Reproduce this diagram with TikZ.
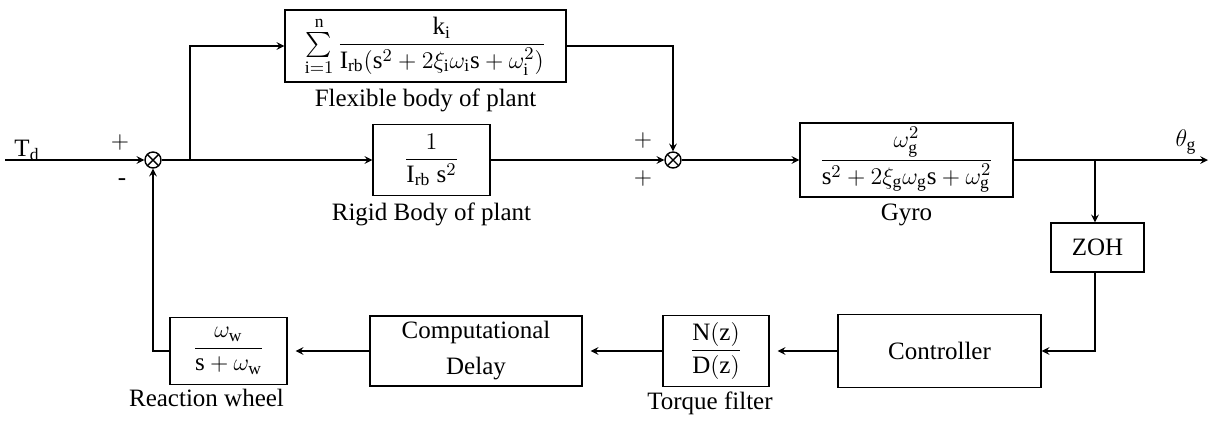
\documentclass[tikz,border=0pt]{standalone}
\usepackage{amsmath, amssymb}
\usepackage{fontspec}
\setmainfont{Liberation Serif}
\usetikzlibrary{calc, positioning}

\begin{document}
\begin{tikzpicture}[>=stealth, x=0.5pt, y=-0.5pt,
    font=\fontsize{12.5}{14}\selectfont,
    block/.style={draw, line width=0.7pt, inner sep=2pt},
    sumjunc/.style={circle, draw, line width=0.7pt, minimum size=8pt, inner sep=0pt,
        path picture={\draw[line width=0.7pt]
            (path picture bounding box.north west) -- (path picture bounding box.south east)
            (path picture bounding box.north east) -- (path picture bounding box.south west);}},
    caption/.style={inner sep=1pt},
    sig/.style={line width=0.7pt},
    gap/.style={sig, shorten >=4pt}]

    % =================================================================
    % 1. FRAME OF THE PICTURE
    % =================================================================
    \useasboundingbox (0,0) rectangle (1211,420);

    % =================================================================
    % 2. SUMMING JUNCTIONS AND FREE POINTS
    % =================================================================
    \node[sumjunc] (sum1) at (153,160) {};
    \node[sumjunc] (sum2) at (673,160) {};
    \coordinate (in) at (5,160);
    \coordinate (br1) at (190,160);
    \coordinate (br2) at (1095,160);
    \coordinate (out) at (1208,160);

    % =================================================================
    % 3. BLOCKS OF THE FORWARD PATH
    % =================================================================
    \node[block, minimum width=140.5pt, minimum height=36pt] (flex) at (425.5,46)
        {$\sum\limits_{\mathrm{i}=1}^{\mathrm{n}}\dfrac{\mathrm{k_i}}{\mathrm{I_{rb}}(\mathrm{s}^2+2\xi_\mathrm{i}\omega_\mathrm{i}\mathrm{s}+\omega^2_\mathrm{i})}$};
    \node[block, minimum width=58.5pt, minimum height=35.5pt] (rigid) at (431.5,160)
        {$\dfrac{1}{\mathrm{I_{rb}}\ \mathrm{s}^2}$};
    \node[block, minimum width=106.5pt, minimum height=37pt] (gyro) at (906.5,160)
        {$\dfrac{\omega^2_\mathrm{g}}{\mathrm{s}^2+2\xi_\mathrm{g}\omega_\mathrm{g}\mathrm{s}+\omega^2_\mathrm{g}}$};

    % =================================================================
    % 4. BLOCKS OF THE FEEDBACK PATH
    % =================================================================
    \node[block, minimum width=46.5pt, minimum height=24.5pt] (zoh) at (1097.5,247.5) {ZOH};
    \node[block, minimum width=101.5pt, minimum height=36.5pt] (ctrl) at (939.5,351) {Controller};
    \node[block, minimum width=53pt, minimum height=35.5pt] (filt) at (716,351)
        {$\dfrac{\mathrm{N(z)}}{\mathrm{D(z)}}$};
    \node[block, minimum width=106pt, minimum height=35pt, align=center] (delay) at (476,351)
        {Computational\\[4pt] Delay};
    \node[block, minimum width=58.5pt, minimum height=33.5pt] (wheel) at (228.5,351)
        {$\dfrac{\omega_\mathrm{w}}{\mathrm{s}+\omega_\mathrm{w}}$};

    % =================================================================
    % 5. CONNECTORS
    % =================================================================
    \draw[sig, ->] (in) -- (sum1.west);
    \draw[sig, ->] (sum1.east) -- (rigid.west);
    \draw[sig, ->] (br1) |- (flex.west);
    \draw[sig, ->] (flex.east) -| (sum2.north);
    \draw[sig, ->] (rigid.east) -- (sum2.west);
    \draw[sig, ->] (sum2.east) -- (gyro.west);
    \draw[sig, ->] (gyro.east) -- (out);
    \draw[sig, ->] (br2) -- (zoh.north -| br2);
    \draw[sig, ->] (zoh.south -| br2) |- (ctrl.east);
    \draw[gap, ->] (ctrl.west) -- (filt.east);
    \draw[gap, ->] (filt.west) -- (delay.east);
    \draw[gap, ->] (delay.west) -- (wheel.east);
    \draw[sig, ->] (wheel.west) -| (sum1.south);

    % =================================================================
    % 6. LABELS
    % =================================================================
    \node (tdlbl) at (27,150) {T$_\mathrm{d}$};
    \node (thlbl) at (1186,142) {$\theta_\mathrm{g}$};
    \node (p1) at (120,142) {$+$};
    \node (m1) at (122,182) {-};
    \node (p2) at (643,140) {$+$};
    \node (p3) at (643,178) {$+$};
    \node[caption, below=2pt] at (flex.south) {Flexible body of plant};
    \node[caption, below=2pt] at (rigid.south) {Rigid Body of plant};
    \node[caption, below=2pt] at (gyro.south) {Gyro};
    \node[caption, below=1pt, xshift=-3pt] at (filt.south) {Torque filter};
    \node[caption, below=1pt, xshift=-11pt] at (wheel.south) {Reaction wheel};

\end{tikzpicture}
\end{document}
